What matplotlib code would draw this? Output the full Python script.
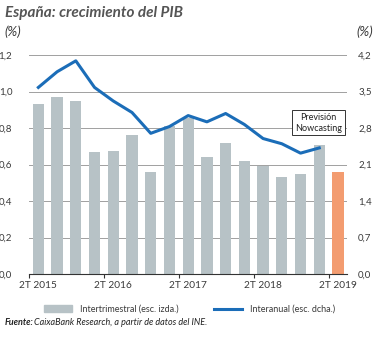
import numpy as np
import matplotlib
matplotlib.use("Agg")
import matplotlib.pyplot as plt
from matplotlib.lines import Line2D
from matplotlib.patches import Patch

plt.rcParams['font.family'] = ['Lato', 'DejaVu Sans']
plt.rcParams['font.size'] = 7

# Quarterly series 2T 2015 .. 2T 2019
quarters = ['2T 2015', '3T 2015', '4T 2015', '1T 2016',
            '2T 2016', '3T 2016', '4T 2016', '1T 2017',
            '2T 2017', '3T 2017', '4T 2017', '1T 2018',
            '2T 2018', '3T 2018', '4T 2018', '1T 2019', '2T 2019']
qoq = [0.93, 0.97, 0.95, 0.67, 0.675, 0.76, 0.56, 0.81, 0.855,
       0.64, 0.72, 0.62, 0.59, 0.53, 0.55, 0.71, 0.557]
yoy = [3.58, 3.88, 4.09, 3.58, 3.32, 3.10, 2.70, 2.83, 3.04,
       2.92, 3.08, 2.87, 2.60, 2.50, 2.32, 2.42]
tick_labels = ['2T 2015', '2T 2016', '2T 2017', '2T 2018', '2T 2019']

gray = '#B7C2C6'
orange = '#F39C70'
blue = '#1B6DB8'
txt = '#3a3a3a'

fig = plt.figure(figsize=(3.79, 3.38), dpi=100)
ax = fig.add_axes([0.0765, 0.189, 0.839, 0.648])
ax2 = ax.twinx()

x = np.arange(len(qoq))
colors = [gray] * (len(qoq) - 1) + [orange]
ax.bar(x, qoq, width=0.6, color=colors, zorder=2)
ax2.plot(x[:len(yoy)], yoy, color=blue, lw=2.2, zorder=3)

ax.set_ylim(0, 1.2)
ax2.set_ylim(0, 4.2)
ax.set_xlim(-0.45, 16.48)
ax.set_yticks(np.arange(0, 1.21, 0.2))
ax.set_yticklabels([f'{v:.1f}'.replace('.', ',') for v in np.arange(0, 1.21, 0.2)])
ax2.set_yticks(np.arange(0, 4.21, 0.7))
ax2.set_yticklabels([f'{v:.1f}'.replace('.', ',') for v in np.arange(0, 4.21, 0.7)])
ax.grid(axis='y', color='#a0a0a0', lw=0.7, zorder=0)
ax.set_axisbelow(True)

for a in (ax, ax2):
    for s in ('top', 'left', 'right', 'bottom'):
        a.spines[s].set_visible(False)
    a.tick_params(axis='y', length=0, colors=txt, labelsize=7)
ax.spines['bottom'].set_visible(True)
ax.spines['bottom'].set_color('#333333')
ax.spines['bottom'].set_linewidth(0.8)
ax.tick_params(axis='y', pad=12)
ax2.tick_params(axis='y', pad=8)

ax.set_xticks([0, 4, 8, 12, 16])
ax.set_xticklabels(tick_labels)
ax.tick_params(axis='x', length=0, colors=txt, labelsize=7.3, pad=5)
ax.set_xticks([-0.5, 3.5, 7.5, 11.5, 15.5], minor=True)
ax.tick_params(axis='x', which='minor', length=3, color='#333333', width=0.8)

ax2.text(14.97, 2.9, 'Previsión\nNowcasting', ha='center', va='center',
         fontsize=6.5, color='#222222', zorder=5,
         bbox=dict(boxstyle='square,pad=0.3', fc='white', ec='#333333', lw=0.7))

fig.text(0.013, 0.963, 'España: crecimiento del PIB', fontsize=11,
         fontweight='bold', style='italic', color='#555555', va='center')
fig.text(0.013, 0.905, '(%)', fontsize=9.5, style='italic', color=txt, va='center')
fig.text(0.985, 0.905, '(%)', fontsize=9.5, style='italic', color=txt, va='center', ha='right')

handles = [Patch(color=gray), Line2D([0], [0], color=blue, lw=2.2)]
fig.legend(handles, ['Intertrimestral (esc. izda.)', 'Interanual (esc. dcha.)'],
           loc='center', bbox_to_anchor=(0.5, 0.085), ncol=2, frameon=False,
           fontsize=6.5, handlelength=3.1, handleheight=0.7, handletextpad=0.9,
           columnspacing=3.9, labelcolor=txt)

fig.text(0.013, 0.045, 'Fuente:', fontsize=6.5, fontweight='bold',
         style='italic', color='#222222', va='center')
fig.text(0.090, 0.045, 'CaixaBank Research, a partir de datos del INE.',
         fontsize=6.5, style='italic', color='#222222', va='center')

fig.savefig('out.png', dpi=100)
